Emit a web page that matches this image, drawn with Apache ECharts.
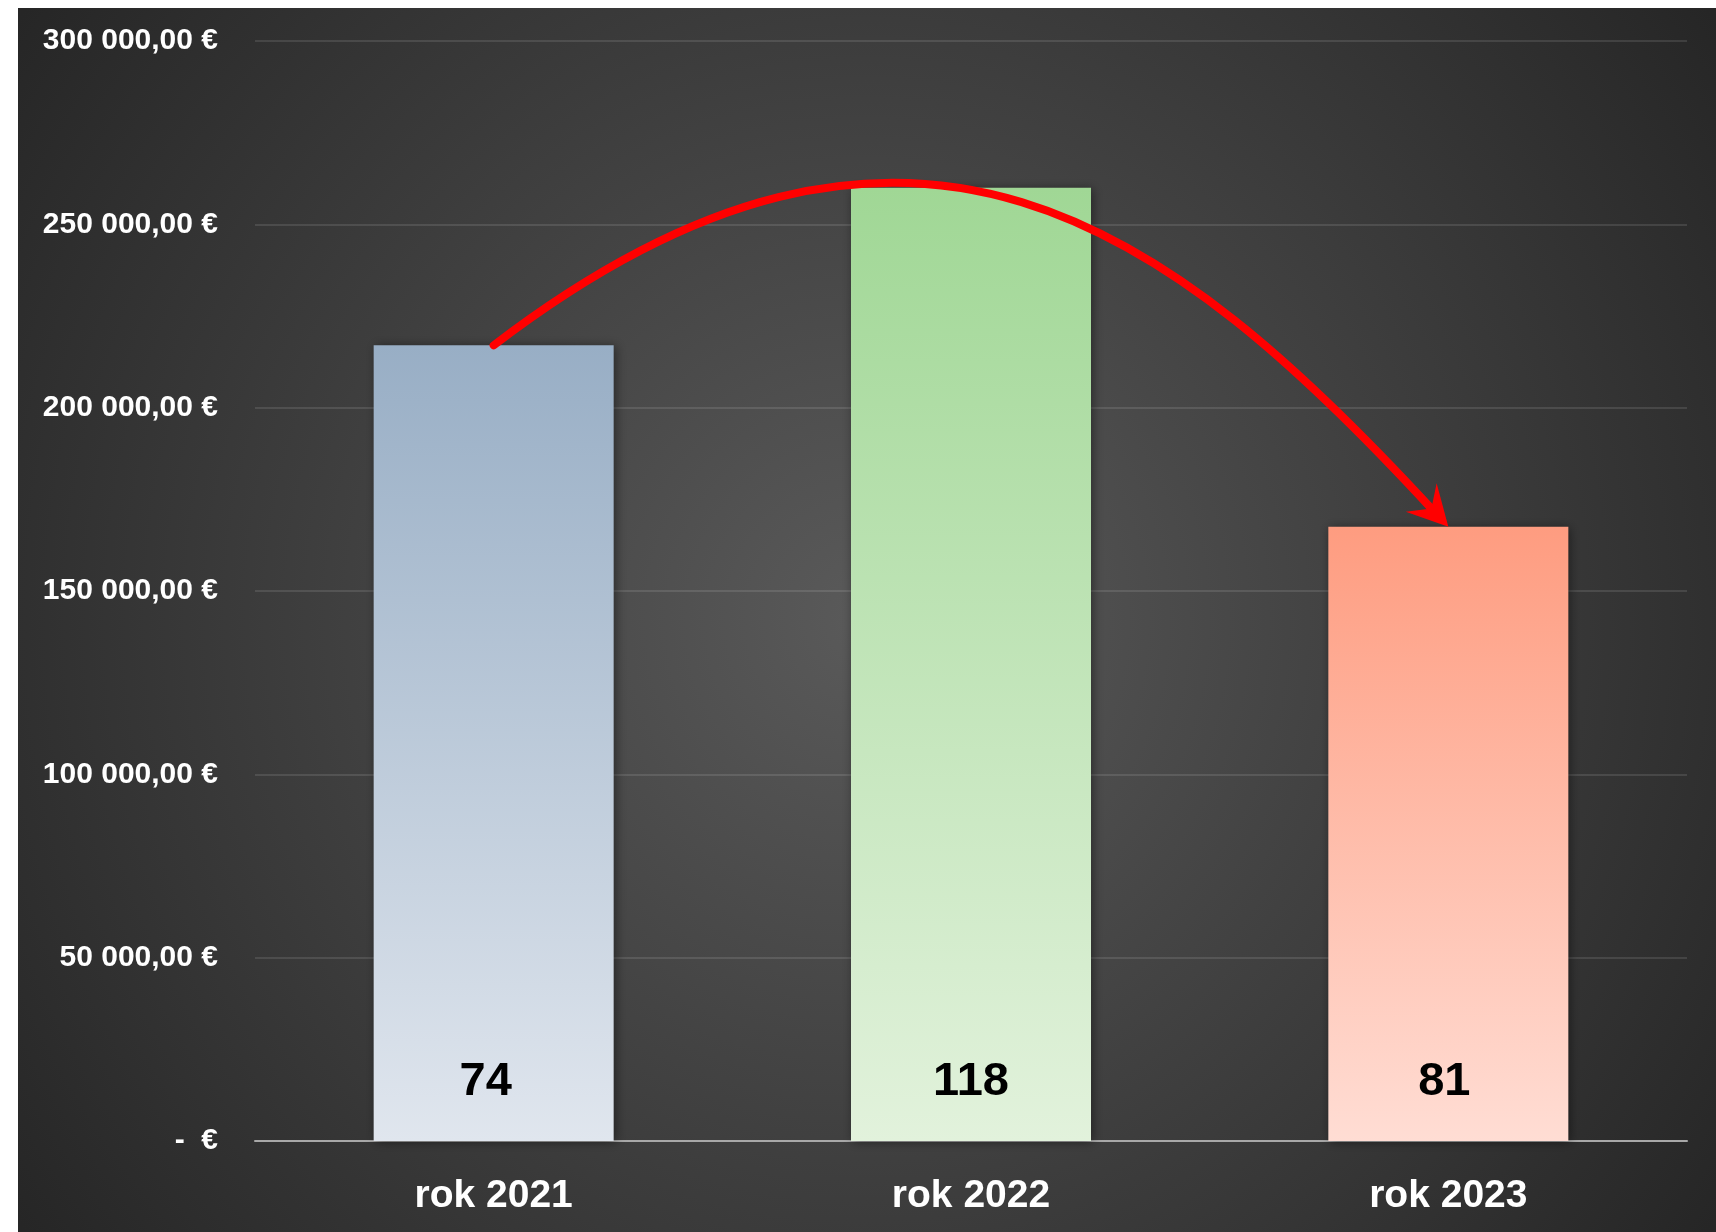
<!DOCTYPE html>
<html>
<head>
<meta charset="utf-8">
<script src="https://cdn.jsdelivr.net/npm/echarts@6/dist/echarts.min.js"></script>
<style>
  html, body { margin: 0; padding: 0; width: 1716px; height: 1232px; background: #ffffff; overflow: hidden; }
  #chart { position: absolute; left: 18px; top: 8px; width: 1698px; height: 1224px; }
</style>
</head>
<body>
<div id="chart"></div>
<script>
// ---- data ----
const categories = ['rok 2021', 'rok 2022', 'rok 2023'];
const revenue = [217000, 260000, 167500];
const counts = [74, 118, 81];
const yMin = 0;
const yMax = 300000;
const yInterval = 50000;
const arrowFromIndex = 0;
const arrowToIndex = 2;

// ---- styling ----
const barTopColors = ['#98aec5', '#a0d795', '#fe9c80'];
const barBottomColors = ['#e0e6ee', '#e2f2dc', '#ffddd4'];
const labelShiftX = [-8, 0, -4];

function formatEuro(v) {
  if (v === 0) return '-  €';
  const s = Math.round(v).toString().replace(/\B(?=(\d{3})+(?!\d))/g, ' ');
  return s + ',00 €';
}

const FONT = '"Liberation Sans", Arial, Helvetica, sans-serif';

const barData = revenue.map((v, i) => ({
  value: v,
  label: { offset: [labelShiftX[i], 0] },
  itemStyle: {
    color: {
      type: 'linear', x: 0, y: 0, x2: 0, y2: 1,
      colorStops: [
        { offset: 0, color: barTopColors[i] },
        { offset: 1, color: barBottomColors[i] }
      ]
    }
  }
}));

const arrowData = [[arrowFromIndex, revenue[arrowFromIndex], arrowToIndex, revenue[arrowToIndex]]];

function renderArrow(params, api) {
  const p0 = api.coord([api.value(0), api.value(1)]);
  const p3 = api.coord([api.value(2), api.value(3)]);
  const chord = Math.hypot(p3[0] - p0[0], p3[1] - p0[1]);
  const d0 = [0.794, -0.607];
  const d1 = [0.678, 0.735];
  const n1 = [-d1[1], d1[0]];
  const a = chord * 0.54;
  const headLen = 40, headHalf = 21, notch = 22;
  const end = [p3[0] - d1[0] * notch, p3[1] - d1[1] * notch];
  const b = chord * 0.42 - notch;
  const cp1 = [p0[0] + d0[0] * a, p0[1] + d0[1] * a];
  const cp2 = [end[0] - d1[0] * b, end[1] - d1[1] * b];
  const back = [p3[0] - d1[0] * headLen, p3[1] - d1[1] * headLen];
  return {
    type: 'group',
    children: [
      {
        type: 'bezierCurve',
        shape: { x1: p0[0], y1: p0[1], x2: end[0], y2: end[1], cpx1: cp1[0], cpy1: cp1[1], cpx2: cp2[0], cpy2: cp2[1] },
        style: { stroke: '#ff0000', lineWidth: 8, fill: null, lineCap: 'round' }
      },
      {
        type: 'polygon',
        shape: {
          points: [
            [p3[0], p3[1]],
            [back[0] + n1[0] * headHalf, back[1] + n1[1] * headHalf],
            [p3[0] - d1[0] * 25, p3[1] - d1[1] * 25],
            [back[0] - n1[0] * headHalf, back[1] - n1[1] * headHalf]
          ]
        },
        style: { fill: '#ff0000' }
      }
    ]
  };
}

const chart = echarts.init(document.getElementById('chart'), null, { renderer: 'canvas' });
chart.setOption({
  animation: false,
  backgroundColor: {
    type: 'radial', x: 0.5, y: 0.5, r: 0.85,
    colorStops: [
      { offset: 0, color: '#5a5a5a' },
      { offset: 1, color: '#262626' }
    ]
  },
  grid: { left: 237, right: 29, top: 33, bottom: 91, containLabel: false },
  xAxis: {
    type: 'category',
    data: categories,
    axisLine: { show: true, lineStyle: { color: '#a8a8a8', width: 2 } },
    axisTick: { show: false },
    axisLabel: { color: '#ffffff', fontFamily: FONT, fontWeight: 'bold', fontSize: 39, margin: 36 },
    z: 1
  },
  yAxis: {
    type: 'value',
    min: yMin, max: yMax, interval: yInterval,
    axisLine: { show: false },
    axisTick: { show: false },
    splitLine: { show: true, lineStyle: { color: 'rgba(255,255,255,0.11)', width: 2 } },
    axisLabel: { color: '#ffffff', fontFamily: FONT, fontWeight: 'bold', fontSize: 30, margin: 37, formatter: formatEuro }
  },
  series: [
    {
      type: 'bar',
      data: barData,
      barWidth: 240,
      z: 3,
      itemStyle: { shadowBlur: 10, shadowColor: 'rgba(0,0,0,0.45)', shadowOffsetX: 2, shadowOffsetY: 1 },
      label: {
        show: true,
        position: 'insideBottom',
        distance: 35,
        color: '#000000',
        fontFamily: FONT,
        fontWeight: 'bold',
        fontSize: 47,
        formatter: (p) => String(counts[p.dataIndex])
      }
    },
    {
      type: 'custom',
      coordinateSystem: 'cartesian2d',
      data: arrowData,
      encode: { x: [0, 2], y: [1, 3] },
      renderItem: renderArrow,
      clip: false,
      z: 10,
      silent: true
    }
  ]
});
</script>
</body>
</html>
